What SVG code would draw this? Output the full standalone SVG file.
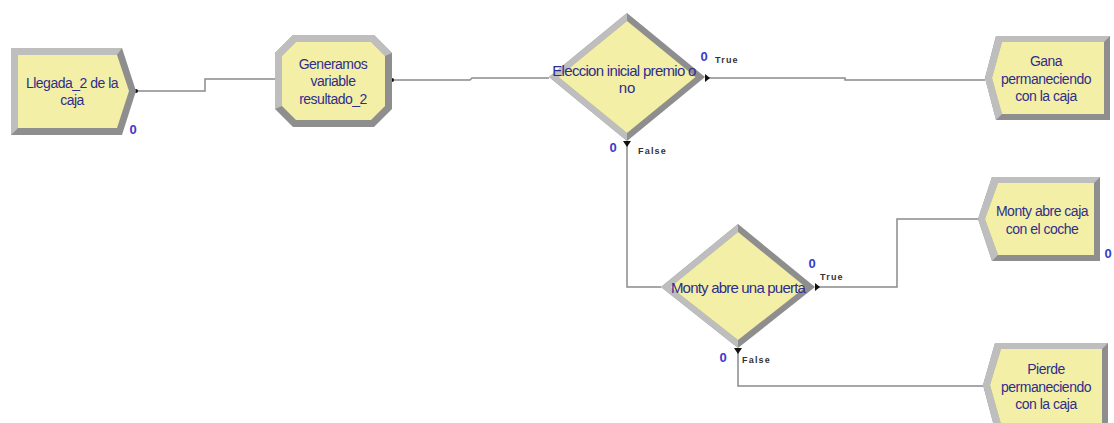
<svg xmlns="http://www.w3.org/2000/svg" width="1114" height="423" viewBox="0 0 1114 423">
<style>
.bg{fill:#ffffff}
.dk{fill:#8E8E8E}
.lt{fill:#BEBEBE}
.in{fill:#F4EFA6}
.lbl{font-family:"Liberation Sans",Arial,sans-serif;font-size:14px;fill:#2E2E8C;text-anchor:middle;letter-spacing:-0.5px}
.dlbl{font-family:"Liberation Sans",Arial,sans-serif;font-size:15px;fill:#2E2E8C;text-anchor:middle}
.cnt{font-family:"Liberation Sans",Arial,sans-serif;font-size:13px;fill:#3A3ACC;text-anchor:middle;font-weight:bold}
.tf{font-family:"Liberation Sans",Arial,sans-serif;font-size:9px;fill:#333333;font-weight:bold;letter-spacing:1.2px}
.cn{fill:none;stroke:#8A8A8A;stroke-width:1.5}
.pt{fill:#111111}
</style>
<rect class="bg" x="0" y="0" width="1114" height="423"/>

<g id="connectors">
<path class="cn" d="M136,91 H205 V79 H275"/>
<path class="cn" d="M392,80 H470 L472,78 H549"/>
<path class="cn" d="M705,78 H845 V80 H985"/>
<path class="cn" d="M627,141 V287 H661"/>
<path class="cn" d="M815,287 H897 V219 H978"/>
<path class="cn" d="M738,348 V386 H983"/>
<circle class="pt" cx="136" cy="91" r="2"/>
<circle class="pt" cx="392" cy="80" r="2"/>
<polygon class="pt" points="705,74 710,78 705,82"/>
<polygon class="pt" points="623,141 631,141 627,147"/>
<polygon class="pt" points="815,283 820,287 815,291"/>
<polygon class="pt" points="734,348 742,348 738,354"/>
</g>

<g id="node-llegada">
<polygon class="dk" points="11,48 122,48 136,91 122,135 11,135"/>
<polygon class="lt" points="11,48 122,48 117,55 18,55 18,128 11,135"/>
<polygon class="in" points="18,55 117,55 129,91 117,128 18,128"/>
<text class="lbl" x="72" y="88">Llegada_2 de la</text>
<text class="lbl" x="72" y="105">caja</text>
<text class="cnt" x="133" y="134">0</text>
</g>

<g id="node-generamos">
<polygon class="dk" points="293,35 374,35 392,53 392,109 374,127 293,127 275,109 275,53"/>
<polygon class="lt" points="293,35 374,35 392,53 385,56 371,42 296,42 282,56 282,106 275,109 275,53"/>
<polygon class="in" points="296,42 371,42 385,56 385,106 371,120 296,120 282,106 282,56"/>
<text class="lbl" x="333" y="69">Generamos</text>
<text class="lbl" x="333" y="86">variable</text>
<text class="lbl" x="333" y="104">resultado_2</text>
</g>

<g id="node-eleccion">
<polygon class="dk" points="627,13 705,77 627,141 549,77"/>
<polygon class="lt" points="627,13 627,21 558.5,77 627,133 627,141 549,77"/>
<polygon class="in" points="627,21 695.5,77 627,133 558.5,77"/>
<text class="dlbl" x="624" y="76" style="letter-spacing:-0.7px">Eleccion inicial premio o</text>
<text class="dlbl" x="627" y="93">no</text>
<text class="cnt" x="704" y="61">0</text>
<text class="tf" x="715" y="63">True</text>
<text class="cnt" x="613" y="152">0</text>
<text class="tf" x="638" y="154">False</text>
</g>

<g id="node-gana">
<polygon class="dk" points="996,36 1110,36 1110,120 996,120 985,78"/>
<polygon class="lt" points="996,36 1110,36 1104,42 1002,42 992,78 1002,114 996,120 985,78"/>
<polygon class="in" points="1002,42 1104,42 1104,114 1002,114 992,78"/>
<text class="lbl" x="1046" y="66">Gana</text>
<text class="lbl" x="1046" y="84">permaneciendo</text>
<text class="lbl" x="1046" y="101">con la caja</text>
</g>

<g id="node-monty">
<polygon class="dk" points="738,224 815,287 738,348 661,287"/>
<polygon class="lt" points="738,224 738,232 670.5,287 738,340 738,348 661,287"/>
<polygon class="in" points="738,232 805.5,287 738,340 670.5,287"/>
<text class="dlbl" x="738" y="293" style="letter-spacing:-0.8px">Monty abre una puerta</text>
<text class="cnt" x="812" y="268">0</text>
<text class="tf" x="820" y="280">True</text>
<text class="cnt" x="723" y="362">0</text>
<text class="tf" x="742" y="363">False</text>
</g>

<g id="node-monty-coche">
<polygon class="dk" points="992,177 1100,177 1100,261 992,261 978,219"/>
<polygon class="lt" points="992,177 1100,177 1094,183 998,183 985,219 998,255 992,261 978,219"/>
<polygon class="in" points="998,183 1094,183 1094,255 998,255 985,219"/>
<text class="lbl" x="1042" y="216">Monty abre caja</text>
<text class="lbl" x="1042" y="234">con el coche</text>
<text class="cnt" x="1108" y="258">0</text>
</g>

<g id="node-pierde">
<polygon class="dk" points="995,343 1108,343 1108,430 995,430 983,385"/>
<polygon class="lt" points="995,343 1108,343 1102,349 1001,349 990,385 1001,424 995,430 983,385"/>
<polygon class="in" points="1001,349 1102,349 1102,424 1001,424 990,385"/>
<text class="lbl" x="1046" y="374">Pierde</text>
<text class="lbl" x="1046" y="392">permaneciendo</text>
<text class="lbl" x="1046" y="409">con la caja</text>
</g>
</svg>
